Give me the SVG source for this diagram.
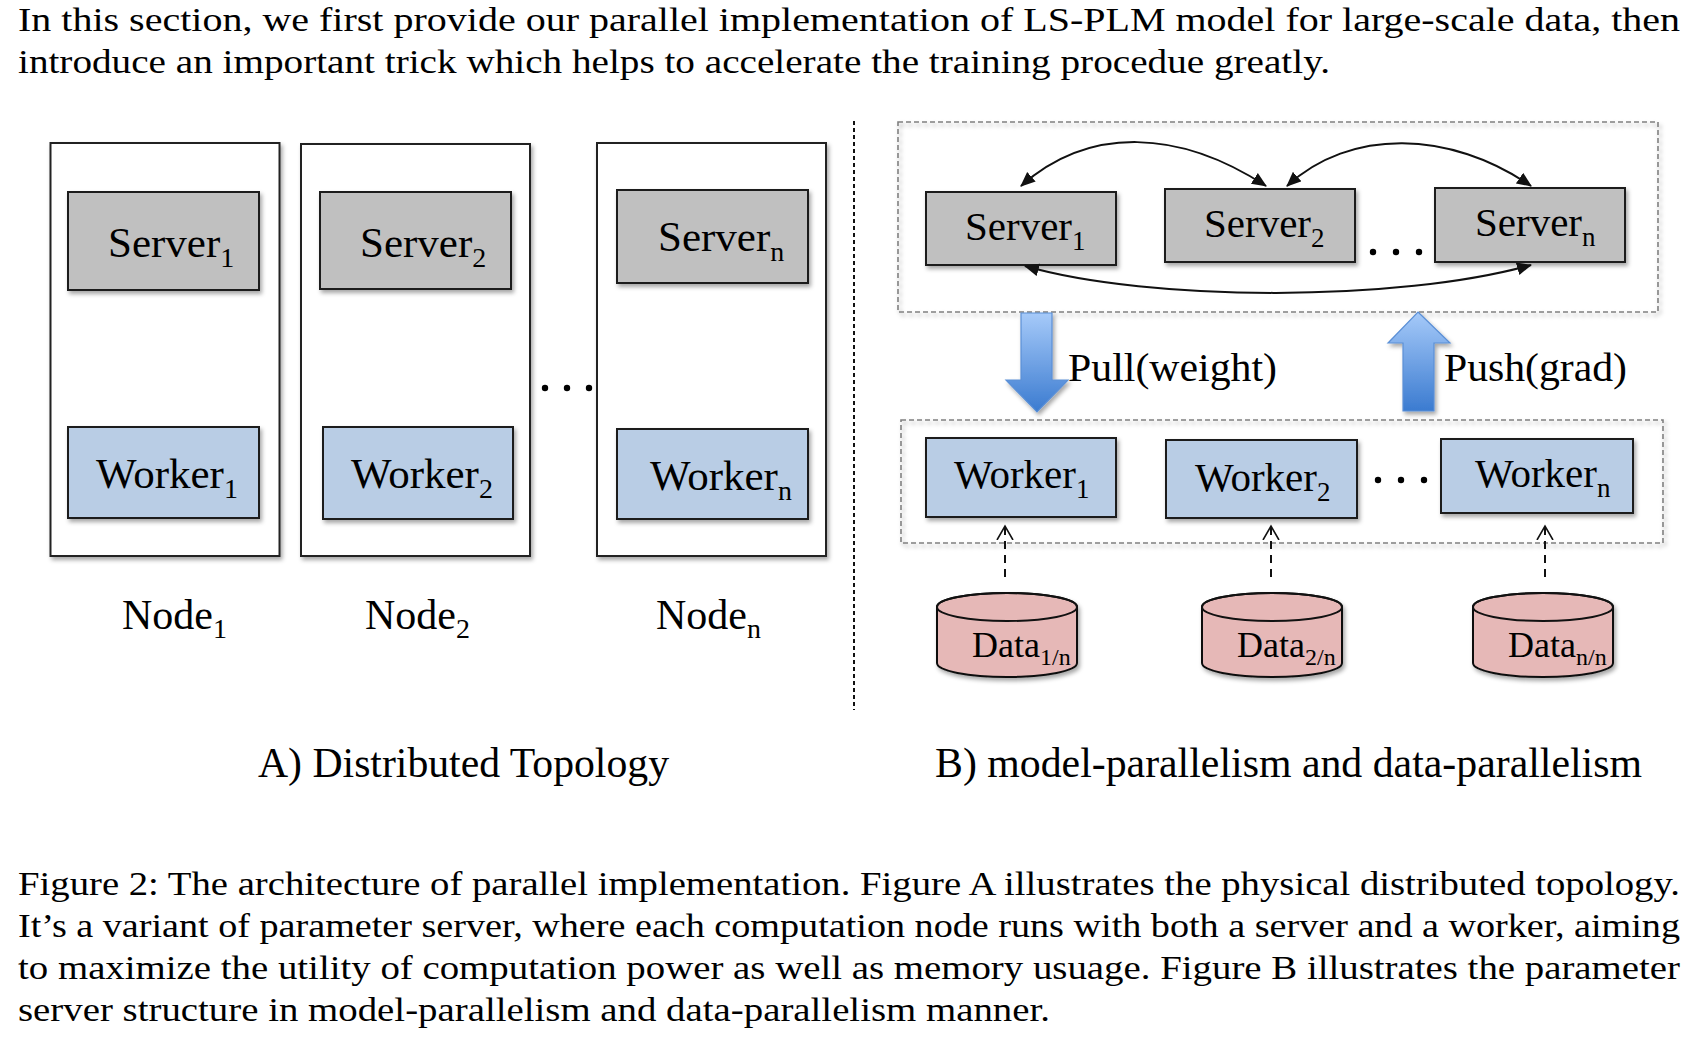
<svg xmlns="http://www.w3.org/2000/svg" width="1686" height="1060" viewBox="0 0 1686 1060">
<defs>
<style>
.t{font-family:"Liberation Serif","Times New Roman",serif;fill:#000}
.para{font-family:"Liberation Serif","Times New Roman",serif;font-size:33px;fill:#000}
.nd{fill:#fff;stroke:#222;stroke-width:2}
.sv{fill:#c0c0c0;stroke:#1a1a1a;stroke-width:2}
.wk{fill:#b9cde5;stroke:#1a1a1a;stroke-width:2}
.db{fill:#e6b8b7;stroke:#111;stroke-width:2}
.grp{fill:none;stroke:#808080;stroke-width:1.6;stroke-dasharray:5 3}
.arc{fill:none;stroke:#111;stroke-width:2;marker-start:url(#ah);marker-end:url(#ah)}
.dash{fill:none;stroke:#111;stroke-width:2;stroke-dasharray:8 6;marker-end:url(#oh)}
.blk{fill:url(#bg);stroke:#5a8fd6;stroke-width:1.2}
</style>
<filter id="sh" x="-10%" y="-10%" width="125%" height="130%">
<feDropShadow dx="2" dy="3" stdDeviation="2" flood-color="#000" flood-opacity="0.35"/>
</filter>
<linearGradient id="bg" x1="0" y1="0" x2="0" y2="1">
<stop offset="0" stop-color="#a6caf9"/>
<stop offset="1" stop-color="#3b7bd0"/>
</linearGradient>
<marker id="ah" viewBox="0 0 14 12" markerWidth="15" markerHeight="13" refX="13" refY="6" orient="auto-start-reverse" markerUnits="userSpaceOnUse">
<path d="M0,0 L14,6 L0,12 z" fill="#111"/>
</marker>
<marker id="oh" viewBox="0 0 16 20" markerWidth="16" markerHeight="20" refX="14" refY="10" orient="auto" markerUnits="userSpaceOnUse">
<path d="M0,2 L14,10 L0,18" fill="none" stroke="#111" stroke-width="1.6"/>
</marker>
</defs>
<rect width="1686" height="1060" fill="#fff"/>

<g id="intro">
<text class="para" x="18" y="31" textLength="1662" lengthAdjust="spacingAndGlyphs">In this section, we first provide our parallel implementation of LS-PLM model for large-scale data, then</text>
<text class="para" x="18" y="73" textLength="1312" lengthAdjust="spacingAndGlyphs">introduce an important trick which helps to accelerate the training procedue greatly.</text>
</g>

<!-- Panel A -->
<g id="node1">
<rect class="nd" x="50.5" y="143" width="229" height="413" filter="url(#sh)"/>
</g>
<g id="node2">
<rect class="nd" x="301" y="144" width="229" height="412" filter="url(#sh)"/>
</g>
<g id="noden">
<rect class="nd" x="597" y="143" width="229" height="413" filter="url(#sh)"/>
</g>
<g id="a-server1">
<rect class="sv" x="68" y="192" width="191" height="98" filter="url(#sh)"/>
<text class="t" x="108" y="257" font-size="43">Server<tspan font-size="28" dy="10">1</tspan></text>
</g>
<g id="a-server2">
<rect class="sv" x="320" y="192" width="191" height="97" filter="url(#sh)"/>
<text class="t" x="360" y="257" font-size="43">Server<tspan font-size="28" dy="10">2</tspan></text>
</g>
<g id="a-servern">
<rect class="sv" x="617" y="190" width="191" height="93" filter="url(#sh)"/>
<text class="t" x="658" y="251" font-size="43">Server<tspan font-size="28" dy="10">n</tspan></text>
</g>
<g id="a-worker1">
<rect class="wk" x="68" y="427" width="191" height="91" filter="url(#sh)"/>
<text class="t" x="96" y="488" font-size="43">Worker<tspan font-size="28" dy="10">1</tspan></text>
</g>
<g id="a-worker2">
<rect class="wk" x="323" y="427" width="190" height="92" filter="url(#sh)"/>
<text class="t" x="351" y="488" font-size="43">Worker<tspan font-size="28" dy="10">2</tspan></text>
</g>
<g id="a-workern">
<rect class="wk" x="617" y="429" width="191" height="90" filter="url(#sh)"/>
<text class="t" x="650" y="490" font-size="43">Worker<tspan font-size="28" dy="10">n</tspan></text>
</g>
<g id="a-dots" fill="#000">
<circle cx="545" cy="388" r="3.2"/><circle cx="567" cy="388" r="3.2"/><circle cx="589" cy="388" r="3.2"/>
</g>
<g id="node-labels">
<text class="t" x="122" y="629" font-size="42">Node<tspan font-size="28" dy="9">1</tspan></text>
<text class="t" x="365" y="629" font-size="42">Node<tspan font-size="28" dy="9">2</tspan></text>
<text class="t" x="656" y="629" font-size="42">Node<tspan font-size="28" dy="9">n</tspan></text>
</g>
<text class="t" x="258" y="777" font-size="42" textLength="411" lengthAdjust="spacingAndGlyphs">A) Distributed Topology</text>

<!-- divider -->
<line x1="854" y1="121" x2="854" y2="710" stroke="#111" stroke-width="2" stroke-dasharray="4 3"/>

<!-- Panel B -->
<g id="server-group"><rect class="grp" x="898" y="122" width="760" height="190" filter="url(#sh)"/></g>
<g id="worker-group"><rect class="grp" x="901" y="420" width="762" height="123" filter="url(#sh)"/></g>

<g id="b-server1">
<rect class="sv" x="926" y="192" width="190" height="73" filter="url(#sh)"/>
<text class="t" x="965" y="240" font-size="41">Server<tspan font-size="27" dy="10">1</tspan></text>
</g>
<g id="b-server2">
<rect class="sv" x="1165" y="189" width="190" height="73" filter="url(#sh)"/>
<text class="t" x="1204" y="237" font-size="41">Server<tspan font-size="27" dy="10">2</tspan></text>
</g>
<g id="b-servern">
<rect class="sv" x="1435" y="188" width="190" height="74" filter="url(#sh)"/>
<text class="t" x="1475" y="236" font-size="41">Server<tspan font-size="27" dy="10">n</tspan></text>
</g>
<g id="b-sdots" fill="#000">
<circle cx="1373" cy="252" r="3.2"/><circle cx="1396" cy="252" r="3.2"/><circle cx="1419" cy="252" r="3.2"/>
</g>

<g id="b-worker1">
<rect class="wk" x="926" y="438" width="190" height="79" filter="url(#sh)"/>
<text class="t" x="954" y="488" font-size="41">Worker<tspan font-size="27" dy="10">1</tspan></text>
</g>
<g id="b-worker2">
<rect class="wk" x="1166" y="440" width="191" height="78" filter="url(#sh)"/>
<text class="t" x="1195" y="491" font-size="41">Worker<tspan font-size="27" dy="10">2</tspan></text>
</g>
<g id="b-workern">
<rect class="wk" x="1441" y="439" width="192" height="74" filter="url(#sh)"/>
<text class="t" x="1475" y="487" font-size="41">Worker<tspan font-size="27" dy="10">n</tspan></text>
</g>
<g id="b-wdots" fill="#000">
<circle cx="1378" cy="480" r="3.2"/><circle cx="1401" cy="480" r="3.2"/><circle cx="1424" cy="480" r="3.2"/>
</g>

<g id="data1">
<path class="db" d="M937,607 L937,663 A70,14 0 0 0 1077,663 L1077,607 A70,14 0 0 0 937,607 Z" filter="url(#sh)"/>
<ellipse cx="1007" cy="607" rx="70" ry="14" fill="none" stroke="#111" stroke-width="2"/>
<text class="t" x="972" y="657" font-size="36">Data<tspan font-size="24" dy="8">1/n</tspan></text>
</g>
<g id="data2">
<path class="db" d="M1202,607 L1202,663 A70,14 0 0 0 1342,663 L1342,607 A70,14 0 0 0 1202,607 Z" filter="url(#sh)"/>
<ellipse cx="1272" cy="607" rx="70" ry="14" fill="none" stroke="#111" stroke-width="2"/>
<text class="t" x="1237" y="657" font-size="36">Data<tspan font-size="24" dy="8">2/n</tspan></text>
</g>
<g id="datan">
<path class="db" d="M1473,607 L1473,663 A70,14 0 0 0 1613,663 L1613,607 A70,14 0 0 0 1473,607 Z" filter="url(#sh)"/>
<ellipse cx="1543" cy="607" rx="70" ry="14" fill="none" stroke="#111" stroke-width="2"/>
<text class="t" x="1508" y="657" font-size="36">Data<tspan font-size="24" dy="8">n/n</tspan></text>
</g>

<g id="connectors">
<path class="arc" d="M1021,186 C1090,125 1180,130 1266,186"/>
<path class="arc" d="M1287,186 C1350,128 1450,130 1531,186"/>
<path class="arc" d="M1025,266 C1150,302 1400,302 1531,265"/>
<polygon class="blk" points="1021,313 1052,313 1052,380 1068,380 1037,412 1006,380 1021,380" filter="url(#sh)"/>
<polygon class="blk" points="1418,312 1450,343 1434,343 1434,411 1403,411 1403,343 1388,343" filter="url(#sh)"/>
<path class="dash" d="M1005,577 L1005,526"/>
<path class="dash" d="M1271,577 L1271,526"/>
<path class="dash" d="M1545,577 L1545,526"/>
</g>
<text class="t" x="1068" y="381" font-size="40" textLength="209" lengthAdjust="spacingAndGlyphs">Pull(weight)</text>
<text class="t" x="1444" y="381" font-size="40" textLength="183" lengthAdjust="spacingAndGlyphs">Push(grad)</text>

<text class="t" x="935" y="777" font-size="42" textLength="707" lengthAdjust="spacingAndGlyphs">B) model-parallelism and data-parallelism</text>

<g id="caption">
<text class="para" x="18" y="895" textLength="1662" lengthAdjust="spacingAndGlyphs">Figure 2:  The architecture of parallel implementation.  Figure A illustrates the physical distributed topology.</text>
<text class="para" x="18" y="937" textLength="1662" lengthAdjust="spacingAndGlyphs">It’s a variant of parameter server, where each computation node runs with both a server and a worker, aiming</text>
<text class="para" x="18" y="979" textLength="1662" lengthAdjust="spacingAndGlyphs">to maximize the utility of computation power as well as memory usuage. Figure B illustrates the parameter</text>
<text class="para" x="18" y="1021" textLength="1032" lengthAdjust="spacingAndGlyphs">server structure in model-parallelism and data-parallelism manner.</text>
</g>
</svg>
